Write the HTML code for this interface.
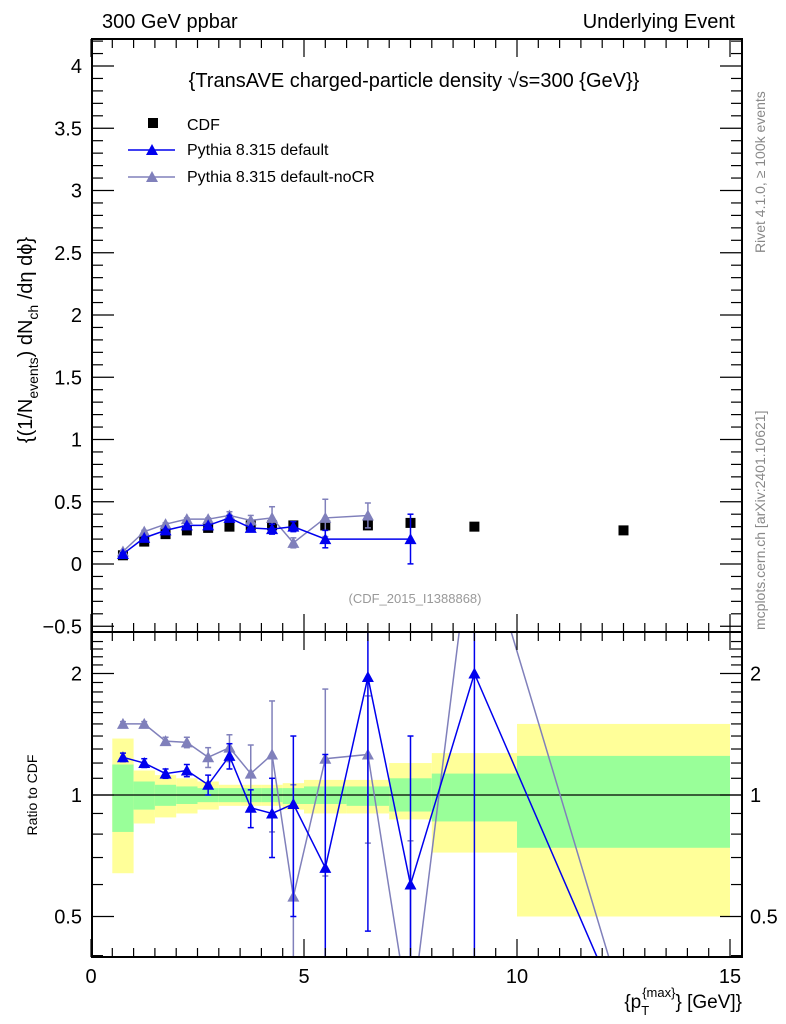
<!DOCTYPE html>
<html><head><meta charset="utf-8"><style>
html,body{margin:0;background:#fff;overflow:hidden;width:786px;height:1024px;}
svg{display:block;font-family:"Liberation Sans",sans-serif;}
</style></head><body>
<svg id="c" width="786" height="1024" xmlns="http://www.w3.org/2000/svg">
<defs>
<clipPath id="cm"><rect x="92" y="39" width="650" height="593"/></clipPath>
<clipPath id="cr"><rect x="92" y="632" width="650" height="325"/></clipPath>
</defs>
<g id="bands" clip-path="url(#cr)"></g>
<g id="main" clip-path="url(#cm)"></g>
<g id="ratio" clip-path="url(#cr)"></g>
<g id="axes"></g>
<text x="102" y="28" font-size="20">300 GeV ppbar</text>
<text x="735" y="28" font-size="20" text-anchor="end">Underlying Event</text>
<text x="414" y="87" font-size="20" text-anchor="middle">{TransAVE charged-particle density √s=300 {GeV}}</text>
<g>
<rect x="148" y="118" width="10" height="10" fill="#000"/>
<text x="187" y="130" font-size="16">CDF</text>
<line x1="128" y1="150" x2="175" y2="150" stroke="#0000ee" stroke-width="1.5"/>
<polygon points="146,155 158,155 152,144" fill="#0000ee"/>
<text x="187" y="155" font-size="16">Pythia 8.315 default</text>
<line x1="128" y1="177" x2="175" y2="177" stroke="#8080bb" stroke-width="1.5"/>
<polygon points="146,182 158,182 152,171" fill="#8080bb"/>
<text x="187" y="182" font-size="16">Pythia 8.315 default-noCR</text>
</g>
<text x="415" y="603" font-size="13" fill="#999" text-anchor="middle">(CDF_2015_I1388868)</text>
<text transform="translate(765,630) rotate(-90)" font-size="14" fill="#888">mcplots.cern.ch [arXiv:2401.10621]</text>
<text transform="translate(765,253) rotate(-90)" font-size="14" fill="#888">Rivet 4.1.0, ≥ 100k events</text>
<text transform="translate(32,340) rotate(-90)" font-size="20" text-anchor="middle">{(1/N<tspan font-size="14" dy="6">events</tspan><tspan dy="-6">) dN</tspan><tspan font-size="14" dy="6">ch</tspan><tspan dy="-6"> /dη  dϕ}</tspan></text>
<text transform="translate(37,795) rotate(-90)" font-size="14" text-anchor="middle">Ratio to CDF</text>
<text x="742" y="1008" font-size="19" text-anchor="end">{p<tspan font-size="13" dy="7">T</tspan><tspan font-size="13" dx="-7" dy="-18">{max}</tspan><tspan dy="11">} [GeV]}</tspan></text>
</svg>
<script>
const binEdges=[0.5,1,1.5,2,2.5,3,3.5,4,4.5,5,6,7,8,10,15];
const xCenters=[0.75,1.25,1.75,2.25,2.75,3.25,3.75,4.25,4.75,5.5,6.5,7.5,9,12.5];
const cdfVals=[0.07,0.18,0.24,0.27,0.29,0.30,0.31,0.31,0.31,0.31,0.31,0.33,0.30,0.27];
const defX=[0.75,1.25,1.75,2.25,2.75,3.25,3.75,4.25,4.75,5.5,7.5];
const defVals=[0.08,0.21,0.27,0.31,0.31,0.37,0.29,0.28,0.30,0.20,0.20];
const defErr=[0.01,0.01,0.01,0.01,0.01,0.02,0.01,0.04,0.04,0.07,0.2];
const nocrX=[0.75,1.25,1.75,2.25,2.75,3.25,3.75,4.25,4.75,5.5,6.5];
const nocrVals=[0.10,0.26,0.32,0.36,0.36,0.39,0.35,0.37,0.17,0.37,0.39];
const nocrErr=[0.01,0.01,0.01,0.01,0.01,0.03,0.04,0.09,0.04,0.15,0.1];
const defRatio=[1.24,1.20,1.13,1.15,1.06,1.25,0.93,0.90,0.95,0.66,1.96,0.60,2.0,0.28];
const defRatioErr=[0.03,0.03,0.03,0.04,0.06,0.09,0.1,0.2,0.45,0.6,1.5,0.8,2,0];
const nocrRatio=[1.50,1.50,1.36,1.35,1.24,1.31,1.13,1.26,0.56,1.23,1.26,0.27,5.1,0.30];
const nocrRatioErr=[0.02,0.02,0.03,0.04,0.07,0.1,0.2,0.45,0.5,0.6,0.5,0.5,2,0];
const yellowHi=[1.38,1.15,1.12,1.10,1.08,1.06,1.06,1.06,1.07,1.09,1.09,1.20,1.27,1.50];
const yellowLo=[0.64,0.85,0.88,0.90,0.92,0.94,0.94,0.94,0.92,0.90,0.90,0.87,0.72,0.50];
const greenHi=[1.19,1.08,1.06,1.05,1.04,1.04,1.04,1.04,1.04,1.05,1.05,1.10,1.13,1.25];
const greenLo=[0.81,0.92,0.94,0.95,0.96,0.96,0.96,0.96,0.95,0.95,0.94,0.91,0.86,0.74];
const mainTicks=[-0.5,0,0.5,1,1.5,2,2.5,3,3.5,4];
const mainTickLabels=["−0.5","0","0.5","1","1.5","2","2.5","3","3.5","4"];
const xTicks=[0,5,10,15];
const ratioTicks=[0.5,1,2];

const NS="http://www.w3.org/2000/svg";
const X=v=>91+v*42.6;
const Y=v=>564-v*124.5;
const R=v=>795-121.5*Math.log2(v);
function mk(p,tag,a){const e=document.createElementNS(NS,tag);for(const k in a)e.setAttribute(k,a[k]);document.getElementById(p).appendChild(e);return e;}
function tri(p,x,y,col,name){const e=mk(p,'polygon',{points:`${x-6},${y+5} ${x+6},${y+5} ${x},${y-6}`,fill:col});

}

for(let i=0;i<yellowHi.length;i++){
 const x1=X(binEdges[i]),x2=X(binEdges[i+1]);
 let e=mk('bands','rect',{x:x1,y:R(yellowHi[i]),width:x2-x1,height:R(yellowLo[i])-R(yellowHi[i]),fill:'#ffff99'});
 
 
 e=mk('bands','rect',{x:x1,y:R(greenHi[i]),width:x2-x1,height:R(greenLo[i])-R(greenHi[i]),fill:'#99ff99'});
 
 
}
mk('bands','line',{x1:92,x2:742,y1:R(1),y2:R(1),stroke:'#000','stroke-width':1.2});

function series(g,xs,ys,errs,col,yf,name){
 mk(g,'polyline',{points:xs.map((x,i)=>X(x)+','+yf(ys[i])).join(' '),fill:'none',stroke:col,'stroke-width':1.5});
 xs.forEach((x,i)=>{
  const lo=yf(Math.max(ys[i]-errs[i],0.001)),hi=yf(ys[i]+errs[i]);
  mk(g,'line',{x1:X(x),x2:X(x),y1:lo,y2:hi,stroke:col,'stroke-width':1.5});
  mk(g,'line',{x1:X(x)-3,x2:X(x)+3,y1:lo,y2:lo,stroke:col,'stroke-width':1.5});
  mk(g,'line',{x1:X(x)-3,x2:X(x)+3,y1:hi,y2:hi,stroke:col,'stroke-width':1.5});
  tri(g,X(x),yf(ys[i]),col,name);
 });
}
xCenters.forEach((x,i)=>{const e=mk('main','rect',{x:X(x)-5,y:Y(cdfVals[i])-5,width:10,height:10,fill:'#000'});
 
 });
series('main',nocrX,nocrVals,nocrErr,'#8080bb',Y,'nocr-point');
series('main',defX,defVals,defErr,'#0000ee',Y,'default-point');
function ratioSeries(vals,errs,col,name){
 mk('ratio','polyline',{points:xCenters.map((x,i)=>X(x)+','+R(vals[i])).join(' '),fill:'none',stroke:col,'stroke-width':1.5});
 xCenters.forEach((x,i)=>{
  if(errs[i]<=0){tri('ratio',X(x),R(vals[i]),col,name);return;}
  const lo=R(Math.max(vals[i]-errs[i],0.01)),hi=R(vals[i]+errs[i]);
  mk('ratio','line',{x1:X(x),x2:X(x),y1:lo,y2:hi,stroke:col,'stroke-width':1.5});
  mk('ratio','line',{x1:X(x)-3,x2:X(x)+3,y1:lo,y2:lo,stroke:col,'stroke-width':1.5});
  mk('ratio','line',{x1:X(x)-3,x2:X(x)+3,y1:hi,y2:hi,stroke:col,'stroke-width':1.5});
  tri('ratio',X(x),R(vals[i]),col,name);
 });
}
ratioSeries(nocrRatio,nocrRatioErr,'#8080bb','nocr-ratio-point');
ratioSeries(defRatio,defRatioErr,'#0000ee','default-ratio-point');

mk('axes','rect',{x:92,y:39,width:650,height:918,fill:'none',stroke:'#000','stroke-width':2});
mk('axes','line',{x1:92,x2:742,y1:632,y2:632,stroke:'#000','stroke-width':2});
for(let v=0;v<=15.2;v+=0.5){const big=Math.abs(v%5)<1e-9;const L=big?18:9;
 for(const [a,b] of [[39,39+L],[632-L,632],[632,632+L],[957-L,957]]) mk('axes','line',{x1:X(v),x2:X(v),y1:a,y2:b,stroke:'#000','stroke-width':1.2});}
xTicks.forEach(v=>{const t=mk('axes','text',{x:X(v),y:983,'font-size':20,'text-anchor':'middle'});t.textContent=v;
 
 });
for(let v=-0.5;v<=4.25;v+=0.1){const big=Math.abs(Math.round(v*2)-v*2)<1e-6;const L=big?22:11;
 mk('axes','line',{x1:92,x2:92+L,y1:Y(v),y2:Y(v),stroke:'#000','stroke-width':1.2});
 mk('axes','line',{x1:742-L,x2:742,y1:Y(v),y2:Y(v),stroke:'#000','stroke-width':1.2});}
mainTicks.forEach((v,i)=>{const t=mk('axes','text',{x:82,y:Y(v)+7,'font-size':20,'text-anchor':'end'});t.textContent=mainTickLabels[i];
 
 });
for(let v=0.4;v<=2.5;v+=0.1){const big=ratioTicks.some(t=>Math.abs(t-v)<1e-6);const L=big?22:11;
 mk('axes','line',{x1:92,x2:92+L,y1:R(v),y2:R(v),stroke:'#000','stroke-width':1.2});
 mk('axes','line',{x1:742-L,x2:742,y1:R(v),y2:R(v),stroke:'#000','stroke-width':1.2});}
ratioTicks.forEach(v=>{for(const [x,a] of [[82,'end'],[750,'start']]){const t=mk('axes','text',{x:x,y:R(v)+7,'font-size':20,'text-anchor':a});t.textContent=v;
 
 }});
</script>
</body></html>
